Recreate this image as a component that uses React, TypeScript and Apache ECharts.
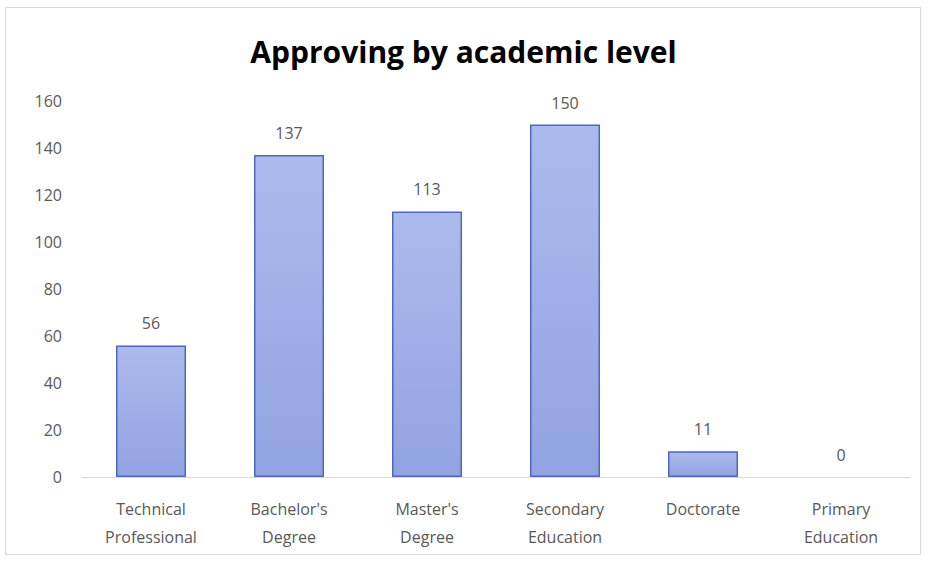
import React, { useEffect, useRef } from "react";
import * as echarts from "echarts";

const categories = [
  "Technical\nProfessional",
  "Bachelor's\nDegree",
  "Master's\nDegree",
  "Secondary\nEducation",
  "Doctorate",
  "Primary\nEducation",
];
const values = [56, 137, 113, 150, 11, 0];
const yTicks = { min: 0, max: 160, interval: 20 };
const title = "Approving by academic level";

export default function App() {
  const ref = useRef<HTMLDivElement>(null);
  useEffect(() => {
    const chart = echarts.init(ref.current!, null, { renderer: "svg" });
    chart.setOption({
      animation: false,
      backgroundColor: "#ffffff",
      title: {
        text: title,
        left: "center",
        top: 31,
        textStyle: {
          fontFamily: "Open Sans",
          fontWeight: "bold",
          fontSize: 30,
          color: "#000000",
        },
      },
      graphic: [
        {
          type: "rect",
          shape: { x: 5.5, y: 7.5, width: 915, height: 547 },
          style: { fill: "none", stroke: "#d9d9d9", lineWidth: 1 },
          silent: true,
        },
      ],
      grid: { left: 82, right: 17, top: 101, bottom: 84 },
      xAxis: {
        type: "category",
        data: categories,
        axisLine: { lineStyle: { color: "#d9d9d9", width: 1 } },
        axisTick: { show: false },
        axisLabel: {
          color: "#595959",
          fontFamily: "Open Sans",
          fontSize: 16,
          lineHeight: 28,
          margin: 18,
          interval: 0,
        },
      },
      yAxis: {
        type: "value",
        min: yTicks.min,
        max: yTicks.max,
        interval: yTicks.interval,
        splitLine: { show: false },
        axisLine: { show: false },
        axisTick: { show: false },
        axisLabel: {
          color: "#595959",
          fontFamily: "Open Sans",
          fontSize: 16,
          margin: 20,
        },
      },
      series: [
        {
          type: "bar",
          data: values.map((v) =>
            v === 0 ? { value: v, itemStyle: { borderWidth: 0 } } : v
          ),
          barWidth: 70,
          itemStyle: {
            color: new echarts.graphic.LinearGradient(0, 0, 0, 1, [
              { offset: 0, color: "#adbaec" },
              { offset: 1, color: "#92a3e2" },
            ]),
            borderColor: "#4d68c4",
            borderWidth: 1.5,
          },
          label: {
            show: true,
            position: "top",
            distance: 14,
            color: "#595959",
            fontFamily: "Open Sans",
            fontSize: 16,
          },
        },
      ],
    });
    return () => chart.dispose();
  }, []);
  return (
    <div
      ref={ref}
      style={{ position: "fixed", left: 0, top: 0, width: 927, height: 561 }}
    />
  );
}
